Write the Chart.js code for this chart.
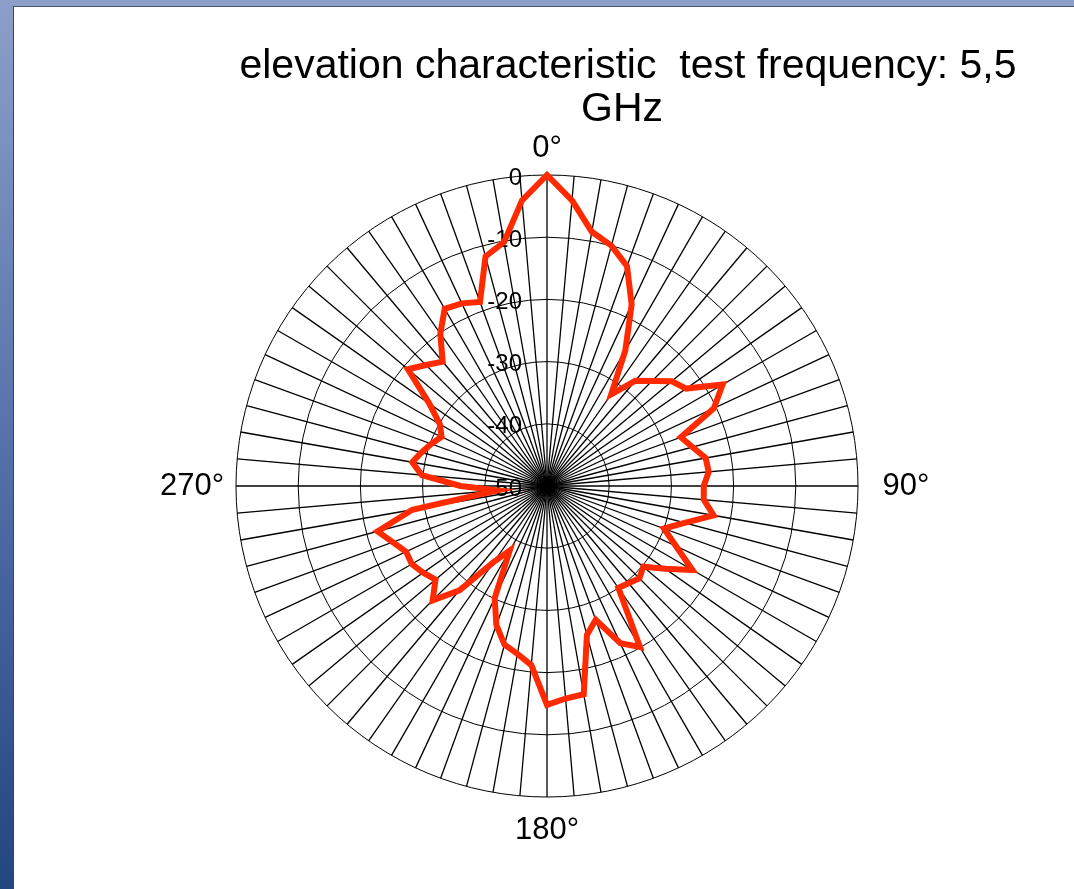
<!DOCTYPE html>
<html>
<head>
<meta charset="utf-8">
<script src="https://cdn.jsdelivr.net/npm/chart.js@4/dist/chart.umd.min.js"></script>
<style>
html,body{margin:0;padding:0;width:1074px;height:889px;overflow:hidden;background:#fff}
#topStrip{position:absolute;left:0;top:0;width:1074px;height:6px;background:#8c9fc9}
#leftStrip{position:absolute;left:0;top:0;width:13px;height:889px;background:linear-gradient(#8c9fc9,#5a76ac 45%,#22467f)}
#panel{position:absolute;left:13px;top:6px;width:1061px;height:883px;box-sizing:border-box;border-left:1px solid #3a4256;border-top:1px solid #4a5268;background:#fff}
#wrap{position:absolute;left:0;top:0;width:1074px;height:889px}
</style>
</head>
<body>
<div id="topStrip"></div>
<div id="leftStrip"></div>
<div id="panel"></div>
<div id="wrap"><canvas id="c" width="1074" height="889"></canvas></div>
<script>
// categories: measurement angle in degrees (clockwise from top)
const angleDeg = [0,5,10,15,20,25,30,35,40,45,50,55,60,65,70,75,80,85,90,95,100,105,110,115,
  120,125,130,135,140,145,150,155,160,165,170,175,180,185,190,195,200,205,210,215,220,225,230,235,
  240,245,250,255,260,265,270,275,280,285,290,295,300,305,310,315,320,325,330,335,340,345,350,355];
// series: relative level in dB
const gainDb = [0,-3.9,-8.5,-10,-12.4,-17.8,-24.8,-32,-27.9,-26.1,-23.8,-22.7,-17.4,-20.4,-27.1,-25.8,-24.1,-23.9,
  -24.8,-24.7,-22.8,-27.1,-30,-27.1,-23,-26.8,-29.8,-29,-29.6,-30,-20.1,-22.1,-27.1,-25.2,-16,-15.7,
  -14.8,-21.1,-22.6,-23.6,-26.2,-30.1,-38,-35.1,-28.1,-24,-26.6,-25.7,-24.9,-25,-23.6,-21.8,-28,-42,
  -36.1,-29.8,-28,-29.1,-30.2,-31.3,-30.1,-26.9,-20.8,-22.5,-23.9,-20.1,-17.1,-17.6,-18.5,-11.8,-10.2,-3.9];
// radial tick labels
const ringTicks = [-50,-40,-30,-20,-10,0];
// compass labels
const compassAngles = [0,90,180,270];
const compassLabels = ['0°','90°','180°','270°'];
const titleLines = ['elevation characteristic  test frequency: 5,5','GHz'];

const FONT = '"Liberation Sans", Arial, Helvetica, sans-serif';

const overlay = {
  id: 'overlay',
  beforeDatasetsDraw(chart) {
    const s = chart.scales.r, ctx = chart.ctx;
    ctx.save();
    ctx.font = '24px ' + FONT;
    ctx.fillStyle = '#000';
    ctx.textAlign = 'right';
    ctx.textBaseline = 'middle';
    ringTicks.forEach(v => {
      const d = s.getDistanceFromCenterForValue(v);
      ctx.fillText(String(v), s.xCenter - 25, s.yCenter - d + 3);
    });
    ctx.restore();
  },
  afterDraw(chart) {
    const s = chart.scales.r, ctx = chart.ctx;
    ctx.save();
    ctx.fillStyle = '#000';
    ctx.textBaseline = 'middle';
    ctx.textAlign = 'center';
    ctx.font = '31px ' + FONT;
    const extra = [27, 48, 33, 44];
    compassAngles.forEach((a, k) => {
      const idx = angleDeg.indexOf(a);
      const p = s.getPointPosition(idx, s.drawingArea + extra[k]);
      ctx.fillText(compassLabels[k], p.x, p.y);
    });
    // title box (white background, slightly overlapping the 0° label)
    ctx.fillStyle = '#fff';
    ctx.fillRect(236, 40, 784, 94);
    ctx.fillStyle = '#000';
    ctx.font = '41px ' + FONT;
    ctx.fillText(titleLines[0], 628, 67);
    ctx.fillText(titleLines[1], 622, 110);
    ctx.restore();
  }
};

new Chart(document.getElementById('c'), {
  type: 'radar',
  data: {
    labels: angleDeg.map(a => a + '°'),
    datasets: [{
      data: gainDb,
      borderColor: '#ff2a00',
      borderWidth: 6,
      fill: false,
      pointRadius: 0,
      pointHoverRadius: 0,
      tension: 0,
      borderJoinStyle: 'miter'
    }]
  },
  options: {
    responsive: false,
    animation: false,
    events: [],
    layout: { padding: { left: 236, right: 216, top: 175, bottom: 92 } },
    plugins: { legend: { display: false }, tooltip: { enabled: false }, title: { display: false } },
    scales: {
      r: {
        min: -50,
        max: 0,
        startAngle: 0,
        ticks: { stepSize: 10, display: false },
        pointLabels: { display: false },
        grid: { circular: true, color: '#000', lineWidth: 1 },
        angleLines: { display: true, color: '#000', lineWidth: 1.3 }
      }
    }
  },
  plugins: [overlay]
});
</script>
</body>
</html>
